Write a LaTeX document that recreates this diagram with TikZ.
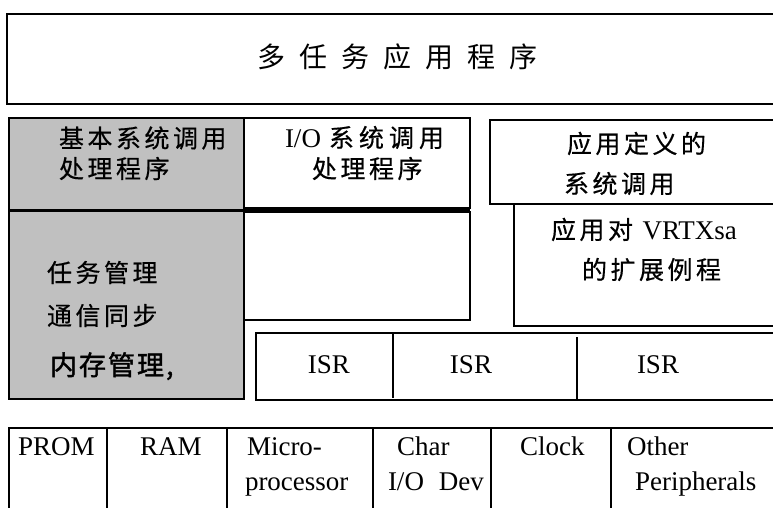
\documentclass[tikz,border=0pt]{standalone}
\usepackage{fontspec}
\setmainfont{Liberation Serif}
\newfontfamily\cjk{Noto Sans CJK SC}[FakeBold=0.5]
\newfontfamily\cjkt{Noto Sans CJK SC}
\newfontfamily\cjkb{Noto Sans CJK SC}[FakeBold=1.5]
\definecolor{boxgray}{RGB}{192,192,192}
\newlength\cjkgap
\newcommand\gapchars[2]{\setlength\cjkgap{#1}\gapcharsi#2\relax}
\def\gapcharsi#1{\ifx\relax#1\else#1\hspace{\cjkgap}\expandafter\gapcharsi\fi}
\tikzset{
  box/.style={draw=black, line width=1.5pt, inner sep=0pt, outer sep=0pt, anchor=north west},
  graybox/.style={box, fill=boxgray},
  divider/.style={line width=2.6pt, black},
  txt/.style={inner sep=0pt, outer sep=0pt, anchor=base west},
  lat/.style={txt, font=\fontsize{27}{30}\selectfont},
  cj/.style={txt, font=\cjk\fontsize{25}{28}\selectfont},
  cjbig/.style={txt, font=\cjkb\fontsize{27}{30}\selectfont},
  cjtitle/.style={txt, font=\cjkt\fontsize{28}{30}\selectfont},
}
\begin{document}
\begin{tikzpicture}[x=1pt, y=-1pt]
\useasboundingbox (0,0) rectangle (773,508);
\clip (0,0) rectangle (773,508);
\fill[white] (0,0) rectangle (773,508);

% boxes
\node[box, minimum width=783pt, minimum height=90pt] (top) at (7,14) {};
\node[graybox, minimum width=235pt, minimum height=92pt] (gt) at (9,118) {};
\node[graybox, minimum width=235pt, minimum height=189pt] (gb) at (9,210) {};
\node[box, minimum width=226pt, minimum height=90pt] (io) at (244,118) {};
\node[box, minimum width=226pt, minimum height=108pt] (em) at (244,212) {};
\node[box, minimum width=300pt, minimum height=84pt] (app) at (490,120) {};
\node[box, minimum width=276pt, minimum height=122pt] (ext) at (514,204) {};
\node[box, minimum width=534pt, minimum height=67pt] (isr) at (256,333) {};
\node[box, minimum width=781pt, minimum height=100pt] (hw) at (9,428) {};

% thick separators
\coordinate (gl) at (8,210.5);
\coordinate (gr) at (470,210.5);
\draw[line width=3.5pt] (gl) -- (gr);
\coordinate (i1t) at (393,333); \coordinate (i1b) at (393,398);
\coordinate (i2t) at (577,337); \coordinate (i2b) at (577,400);
\draw[divider] (i1t) -- (i1b);
\draw[divider] (i2t) -- (i2b);
\foreach \x/\n in {107/h1,227/h2,373/h3,491/h4,611/h5}{
  \coordinate (\n t) at (\x,428);
  \coordinate (\n b) at (\x,520);
  \draw[divider] (\n t) -- (\n b);
}

% texts
\node[cjtitle] (title) at (257,67.5) {\gapchars{14pt}{多任务应用程序}};
\node[cj] (g1) at (59,147.5) {\gapchars{3.5pt}{基本系统调用}};
\node[cj] (g2) at (59,178) {\gapchars{3.5pt}{处理程序}};
\node[txt, font=\fontsize{27}{30}\selectfont] (io1) at (285,147) {I/O\hspace{8pt}{\cjk\fontsize{25}{28}\selectfont\gapchars{5pt}{系统调用}}};
\node[cj] (io2) at (312,178) {\gapchars{3.5pt}{处理程序}};
\node[cj] (g3) at (47,282) {\gapchars{3.5pt}{任务管理}};
\node[cj] (g4) at (47,325) {\gapchars{3.5pt}{通信同步}};
\node[cjbig] (g5) at (50,375) {\gapchars{2pt}{内存管理},};
\node[cj] (a1) at (567,153) {\gapchars{3.5pt}{应用定义的}};
\node[cj] (a2) at (564,193) {\gapchars{3.5pt}{系统调用}};
\node[cj] (e1) at (551,239) {\gapchars{3.5pt}{应用对}\hspace{6pt}{\fontsize{27}{30}\rmfamily VRTXsa}};
\node[cj] (e2) at (582,279) {\gapchars{3.5pt}{的扩展例程}};

\node[lat, anchor=base] (s1) at (329,373) {ISR};
\node[lat, anchor=base] (s2) at (471,373) {ISR};
\node[lat, anchor=base] (s3) at (658,373) {ISR};

\node[lat] (b1) at (18,455) {PROM};
\node[lat] (b2) at (140,455) {RAM};
\node[lat] (b3) at (247,455) {Micro-};
\node[lat] (b4) at (245,490) {processor};
\node[lat] (b5) at (397,455) {Char};
\node[lat] (b6) at (388,490) {I/O\hspace{15pt}Dev};
\node[lat] (b7) at (520,455) {Clock};
\node[lat] (b8) at (627,455) {Other};
\node[lat] (b9) at (635,490) {Peripherals};
\end{tikzpicture}
\end{document}
